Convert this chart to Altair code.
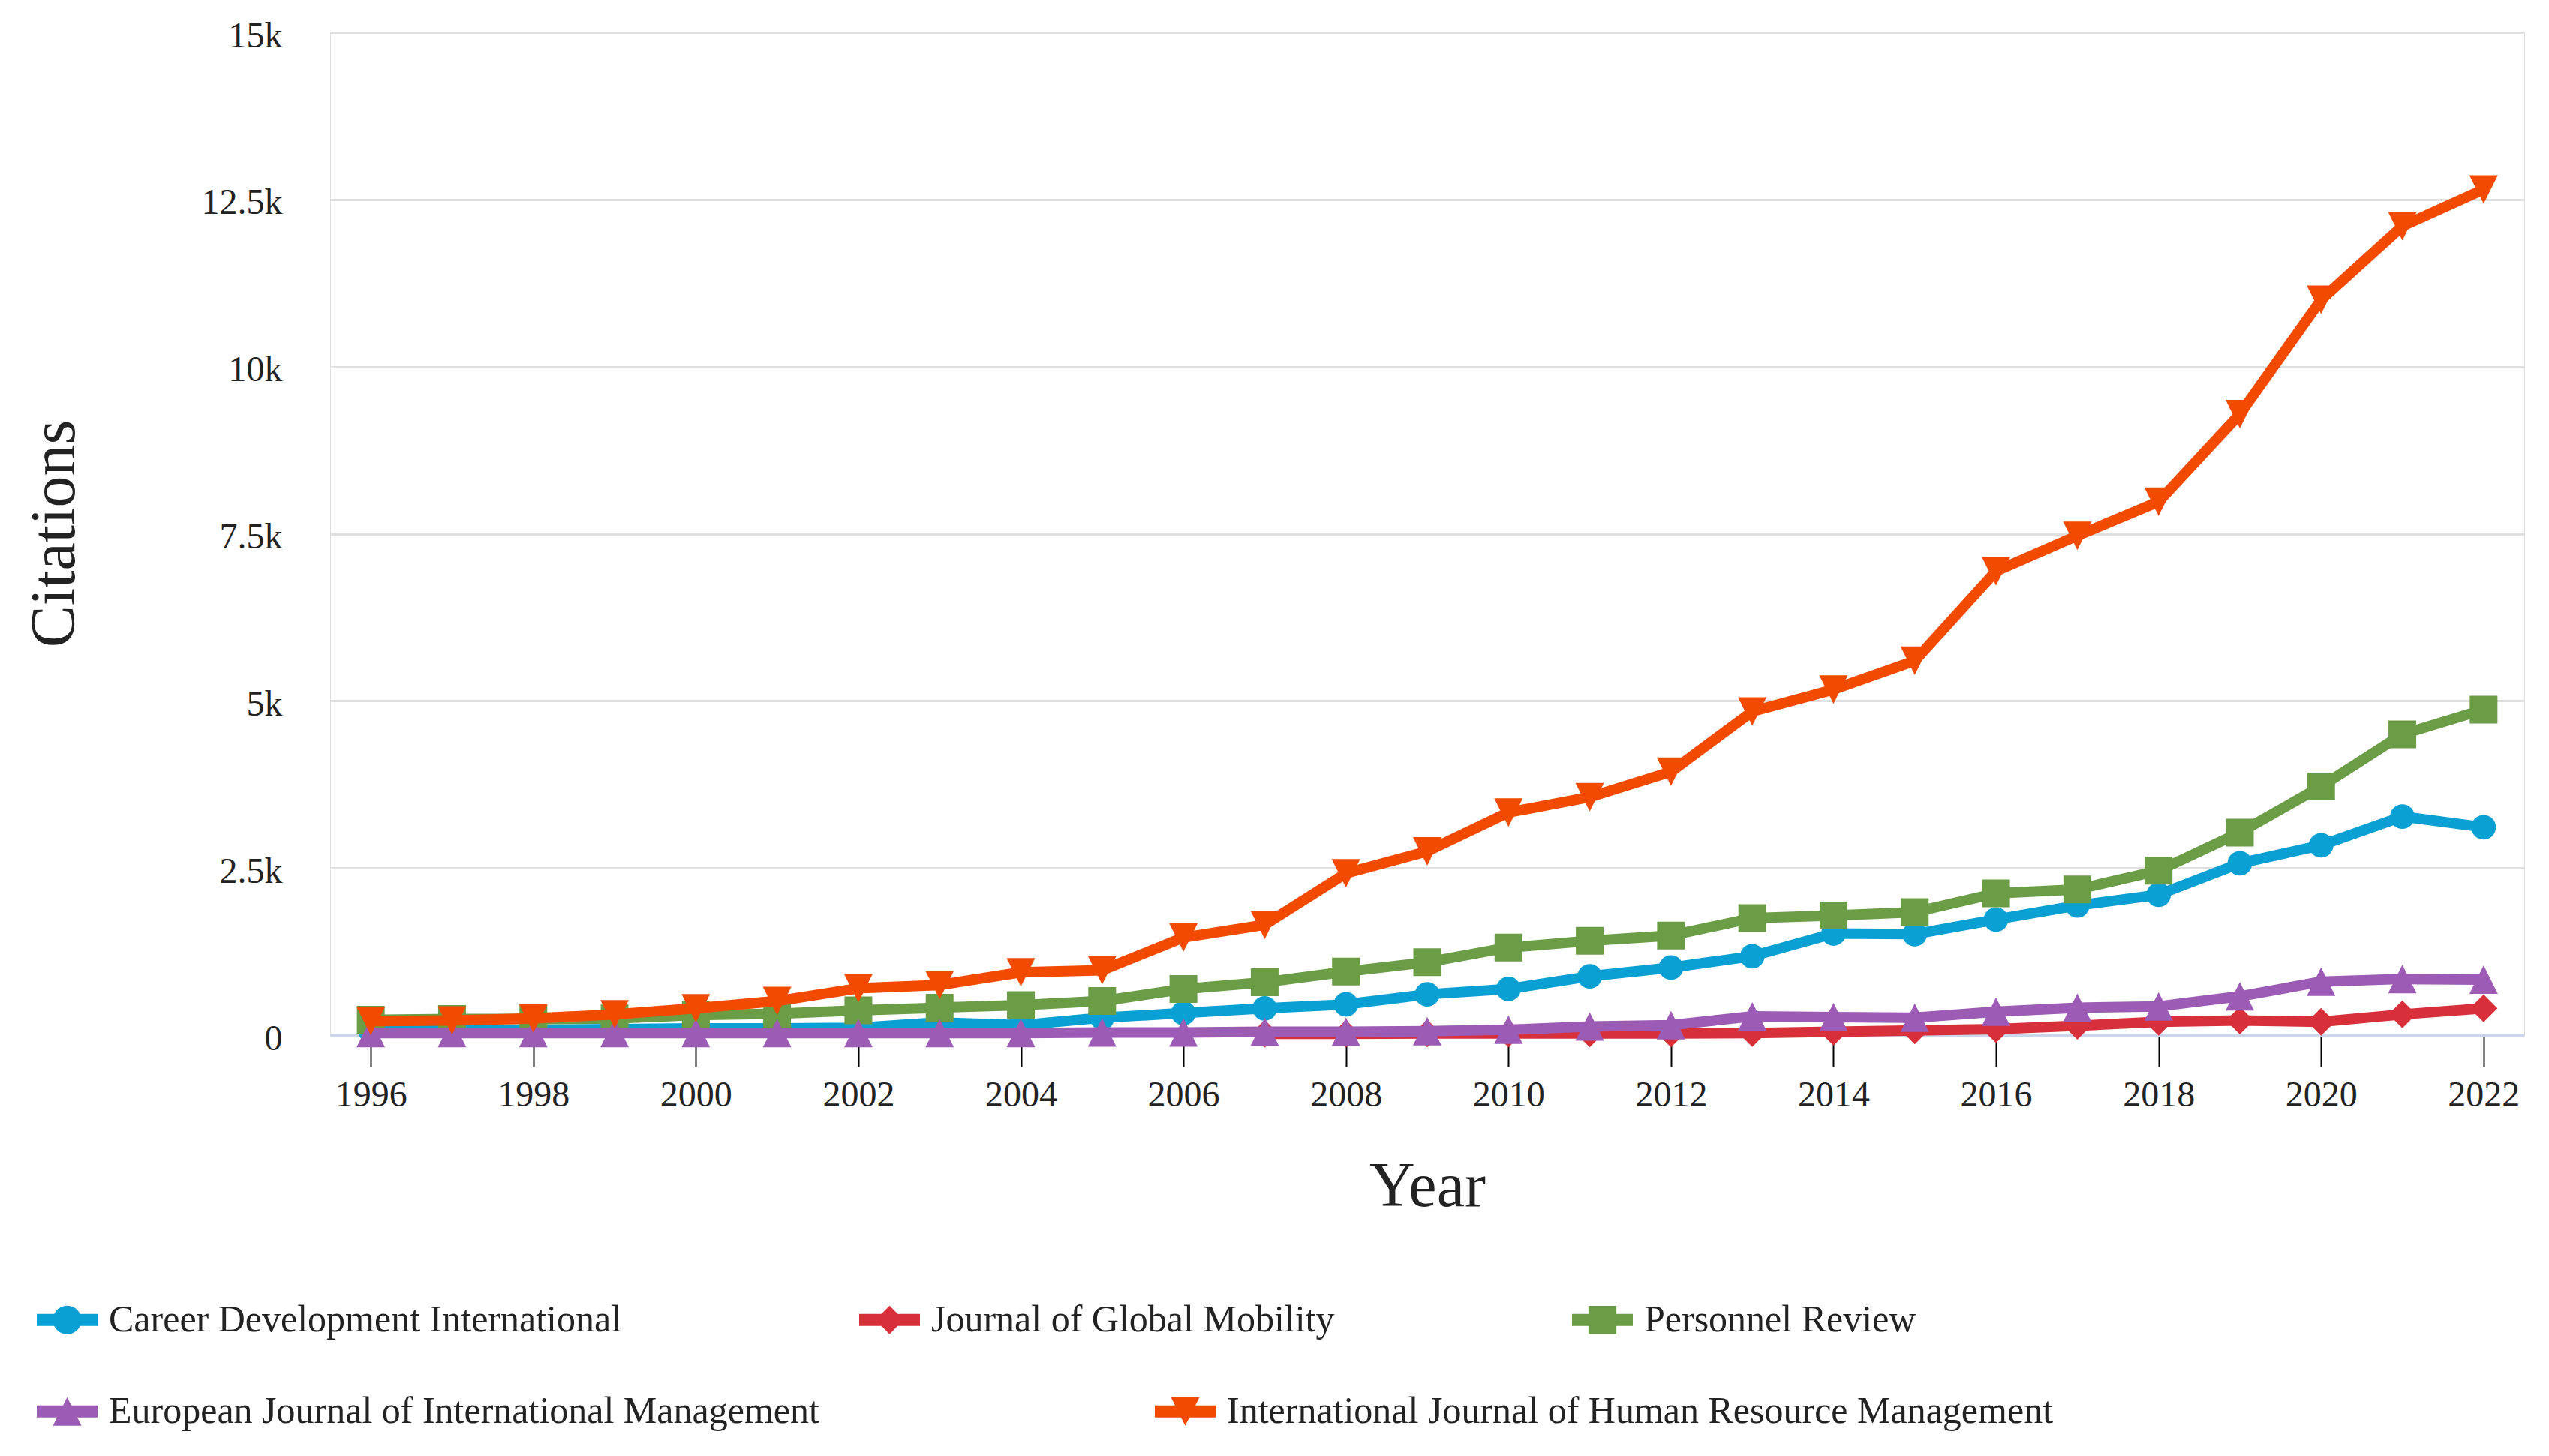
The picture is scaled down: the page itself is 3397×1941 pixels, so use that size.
import altair as alt
import pandas as pd

years = list(range(1996, 2023))

journals = [
    "Career Development International",
    "Journal of Global Mobility",
    "Personnel Review",
    "European Journal of International Management",
    "International Journal of Human Resource Management",
]
colors = ["#0aa0d4", "#d8303b", "#6b9d46", "#9c5bb5", "#f24a00"]

cdi = [60, 70, 80, 90, 100, 100, 110, 190, 150, 260, 330, 400, 460, 610, 690,
       880, 1010, 1180, 1520, 1510, 1730, 1940, 2100, 2570, 2840, 3270, 3110]
jgm = [None, None, None, None, None, None, None, None, None, None, None,
       20, 20, 25, 25, 25, 25, 30, 50, 70, 90, 140, 200, 220, 200, 310, 400]
pr = [230, 240, 240, 250, 300, 320, 370, 410, 450, 510, 690, 790, 950, 1090,
      1310, 1410, 1490, 1750, 1790, 1840, 2120, 2180, 2460, 3030, 3720, 4500, 4870]
ejim = [30, 30, 30, 30, 30, 30, 30, 30, 30, 40, 40, 50, 50, 60, 80, 130, 150,
        280, 270, 260, 350, 410, 430, 580, 800, 840, 830]
ijhrm = [210, 220, 250, 310, 400, 510, 700, 750, 940, 970, 1460, 1650, 2420,
         2750, 3330, 3560, 3940, 4840, 5170, 5600, 6940, 7470, 7980, 9290,
         11000, 12100, 12650]

series = [cdi, jgm, pr, ejim, ijhrm]

x_ticks = list(range(1996, 2023, 2))
y_ticks = [0, 2500, 5000, 7500, 10000, 12500, 15000]

FONT = "Liberation Serif"
TXT = "#222222"


def circle_path(r):
    k = round(0.5523 * r, 4)
    return (f"M{r},0 C{r},{k} {k},{r} 0,{r} "
            f"C{-k},{r} {-r},{k} {-r},0 "
            f"C{-r},{-k} {-k},{-r} 0,{-r} "
            f"C{k},{-r} {r},{-k} {r},0 Z")


bar = "M-1,-0.2 L1,-0.2 L1,0.2 L-1,0.2 Z "
legend_paths = [
    bar + circle_path(0.47),
    bar + "M0,-0.47 L0.46,0 L0,0.47 L-0.46,0 Z",
    bar + "M-0.46,-0.46 L0.46,-0.46 L0.46,0.46 L-0.46,0.46 Z",
    bar + "M0,-0.47 L0.47,0.47 L-0.47,0.47 Z",
    bar + "M-0.47,-0.47 L0.47,-0.47 L0,0.47 Z",
]

marker_shapes = ["circle", "diamond", "square", "M0,-1 L1,1 L-1,1 Z", "M-1,-1 L1,-1 L0,1 Z"]
marker_sizes = [1075, 1369, 1369, 1444, 1444]

x_scale = alt.Scale(domain=[1995.5, 2022.5], nice=False, zero=False)
y_scale = alt.Scale(domain=[0, 15000], nice=False)

x_axis = alt.Axis(
    values=x_ticks, format="d", grid=False, title="Year",
    labelFont=FONT, labelFontSize=48, labelColor=TXT, labelPadding=14,
    labelFlush=False, labelOverlap=False,
    tickColor="#000000", tickWidth=2, tickSize=42,
    domainColor="#ccd6eb", domainWidth=4,
    titleFont=FONT, titleFontSize=84, titleFontWeight="normal", titleColor=TXT,
    titleBaseline="alphabetic", titleY=227,
)
y_axis = alt.Axis(
    values=y_ticks, grid=True, gridColor="#e0e0e0", gridWidth=3,
    labelExpr="datum.value == 0 ? '0' : (datum.value / 1000) + 'k'",
    domain=False, ticks=False, tickSize=0, title="Citations",
    labelFont=FONT, labelFontSize=48, labelColor=TXT, labelPadding=64,
    labelOffset=5, labelOverlap=False,
    titleFont=FONT, titleFontSize=84, titleFontWeight="normal", titleColor=TXT,
    titleBaseline="alphabetic", titleX=-342, titleY=668, titleAngle=270,
    titleAlign="center",
)

layers = []
for i, (name, vals) in enumerate(zip(journals, series)):
    rows = [{"year": y, "citations": v}
            for y, v in zip(years, vals) if v is not None]
    df = pd.DataFrame(rows)
    enc = dict(
        x=alt.X("year:Q", scale=x_scale, axis=x_axis),
        y=alt.Y("citations:Q", scale=y_scale, axis=y_axis),
    )
    line = alt.Chart(df).mark_line(color=colors[i], strokeWidth=14,
                                   strokeJoin="round").encode(**enc)
    pts = alt.Chart(df).mark_point(
        filled=True, opacity=1, color=colors[i], shape=marker_shapes[i],
        size=marker_sizes[i], strokeWidth=0,
    ).encode(**enc)
    layers += [line, pts]


def legend_layer(field, idx, lx, ly, colpad):
    names = [journals[k] for k in idx]
    lg = alt.Legend(
        title=None, orient="none", legendX=lx, legendY=ly,
        direction="horizontal", columnPadding=colpad, symbolSize=6561,
        symbolStrokeWidth=0, labelOffset=15, labelFont=FONT, labelFontSize=50,
        labelColor=TXT, labelLimit=3000, padding=0,
    )
    df = pd.DataFrame({field: names})
    return alt.Chart(df).transform_filter("false").mark_point(
        filled=True, opacity=1, strokeWidth=0
    ).encode(
        color=alt.Color(f"{field}:N", legend=lg,
                        scale=alt.Scale(domain=names, range=[colors[k] for k in idx])),
        shape=alt.Shape(f"{field}:N", legend=lg,
                        scale=alt.Scale(domain=names, range=[legend_paths[k] for k in idx])),
    )


layers.append(legend_layer("row1", [0, 1, 2], -391, 1676, 316))
layers.append(legend_layer("row2", [3, 4], -391, 1798, 447))

chart = alt.layer(*layers).resolve_scale(
    color="independent", shape="independent"
).properties(
    width=2924, height=1337,
    padding={"left": 432, "top": 35, "right": 25, "bottom": 553},
    autosize=alt.AutoSizeParams(type="none"),
).configure_view(strokeWidth=0).configure(background="white")

chart.save("out.html", embed_options={"renderer": "svg", "actions": False})
